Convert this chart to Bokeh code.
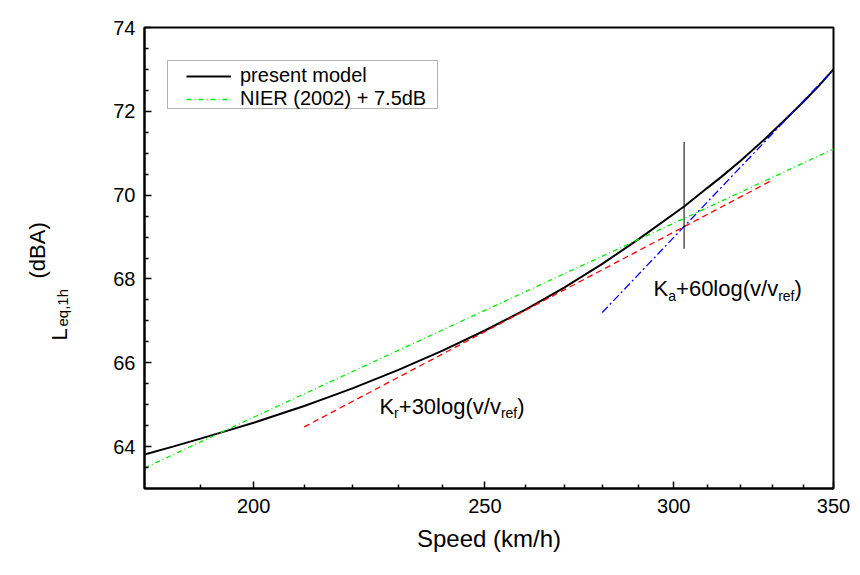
import math
from bokeh.plotting import figure
from bokeh.models import (Range1d, FixedTicker, BasicTickFormatter, Label, Legend, LegendItem,
                          BoxAnnotation)
from bokeh.embed import file_html
from bokeh.resources import INLINE

# ---- data ----
speed_model = [180, 185, 190, 195, 200, 205, 210, 215, 220, 230, 240, 250, 260, 270, 280,
               290, 303, 310, 314, 320, 328, 335, 340, 345, 350]
leq_model = [63.81, 64.00, 64.19, 64.38, 64.57, 64.77, 64.97, 65.18, 65.39, 65.83, 66.29,
             66.77, 67.27, 67.80, 68.36, 68.95, 69.73, 70.18, 70.43, 70.82, 71.37, 71.87,
             72.23, 72.60, 73.00]

speed_nier = [180, 200, 250, 300, 350]
leq_nier = [63.49, 64.70, 67.25, 69.33, 71.10]

speed_kr = [210, 330]
leq_kr = [64.47, 70.36]

speed_ka = [280, 350]
leq_ka = [67.20, 73.00]

speed_mark = [303, 303]
leq_mark = [68.72, 71.27]

x_major = [200, 250, 300, 350]
x_minor = [190, 210, 220, 230, 240, 260, 270, 280, 290, 310, 320, 330, 340]
y_major = [64, 66, 68, 70, 72, 74]
y_minor = [63.5, 64.5, 65, 65.5, 66.5, 67, 67.5, 68.5, 69, 69.5, 70.5, 71, 71.5, 72.5, 73, 73.5]

FONT = "Liberation Sans"

p = figure(x_axis_type="log", x_range=Range1d(180, 350), y_range=Range1d(63, 74),
           frame_width=689, frame_height=461,
           min_border_left=144, min_border_top=27, min_border_right=18, min_border_bottom=76,
           output_backend="svg", toolbar_location=None)
p.background_fill_color = "white"
p.border_fill_color = "white"
p.outline_line_color = "black"
p.outline_line_width = 2
p.xgrid.visible = False
p.ygrid.visible = False

for ax in (p.xaxis[0], p.yaxis[0]):
    ax.axis_line_width = 2
    ax.axis_line_color = "black"
    ax.major_tick_in = 7
    ax.major_tick_out = 0
    ax.minor_tick_in = 4
    ax.minor_tick_out = 0
    ax.major_tick_line_width = 1.5
    ax.minor_tick_line_width = 1.5
    ax.major_tick_line_color = "black"
    ax.minor_tick_line_color = "black"
    ax.major_label_text_font = FONT
    ax.major_label_text_font_size = "20px"
    ax.major_label_text_color = "black"

p.xaxis.ticker = FixedTicker(ticks=x_major, minor_ticks=x_minor)
p.xaxis.formatter = BasicTickFormatter()
p.xaxis.major_label_standoff = 10
p.yaxis.ticker = FixedTicker(ticks=y_major, minor_ticks=y_minor)
p.yaxis.major_label_standoff = 9

p.xaxis.axis_label = "Speed (km/h)"
p.xaxis.axis_label_text_font = FONT
p.xaxis.axis_label_text_font_size = "24px"
p.xaxis.axis_label_text_font_style = "normal"
p.xaxis.axis_label_text_color = "black"
p.xaxis.axis_label_standoff = 9

# ---- lines ----
r_model = p.line(speed_model, leq_model, line_color="black", line_width=2)
r_nier = p.line(speed_nier, leq_nier, line_color="#00ee00", line_width=1.3, line_dash="5 3 1 3")
p.line(speed_kr, leq_kr, line_color="#ff0000", line_width=1.3, line_dash="6 4")
p.line(speed_ka, leq_ka, line_color="#0000ff", line_width=1.3, line_dash="8 3 2 3")
p.line(speed_mark, leq_mark, line_color="black", line_width=1)

# legend frame (Origin style: wide side margins, tight top/bottom)
p.add_layout(BoxAnnotation(left=23, right=293, bottom=380, top=428,
                           left_units="screen", right_units="screen",
                           bottom_units="screen", top_units="screen",
                           fill_color="white", fill_alpha=1.0,
                           line_color="black", line_width=1, level="annotation"))

legend = Legend(items=[LegendItem(label="present model", renderers=[r_model]),
                       LegendItem(label="NIER (2002) + 7.5dB", renderers=[r_nier])],
                location=(42, 378))
legend.label_text_font = FONT
legend.label_text_font_size = "20px"
legend.label_text_color = "black"
legend.glyph_width = 45
legend.glyph_height = 20
legend.label_height = 20
legend.label_standoff = 9
legend.spacing = 0
legend.padding = 0
legend.margin = 0
legend.border_line_alpha = 0
legend.background_fill_alpha = 0
p.add_layout(legend)


# ---- annotations with subscripts ----
def add_pieces(x, y, pieces):
    for text, dx, dy, size in pieces:
        p.add_layout(Label(x=x, y=y, x_offset=dx, y_offset=dy,
                           text=text, text_font=FONT, text_font_size=size, text_color="black",
                           text_align="left", text_baseline="alphabetic"))


add_pieces(294.2, 67.77, [("K", 0, 0, "22px"), ("a", 14.7, -7, "14px"),
                          ("+60log(v/v", 22.5, 0, "22px"), ("ref", 124.6, -7, "14px"),
                          (")", 141.0, 0, "22px")])
add_pieces(225.8, 64.96, [("K", 0, 0, "22px"), ("r", 14.7, -7, "14px"),
                          ("+30log(v/v", 19.4, 0, "22px"), ("ref", 121.5, -7, "14px"),
                          (")", 137.8, 0, "22px")])


# y axis title (rotated, reading upward), placed in the left side panel
def add_vertical(sx, sy, text, size):
    p.add_layout(Label(x=sx, y=sy, x_units="screen", y_units="screen", angle=math.pi / 2,
                       text=text, text_font=FONT, text_font_size=size, text_color="black",
                       text_align="left", text_baseline="alphabetic"), "left")


add_vertical(-26, 148, "L", "22px")
add_vertical(-6, 162, "eq,1h", "15px")
add_vertical(-6, 210, "(dBA)", "22px")

open("out.html", "w").write(file_html(p, INLINE))
